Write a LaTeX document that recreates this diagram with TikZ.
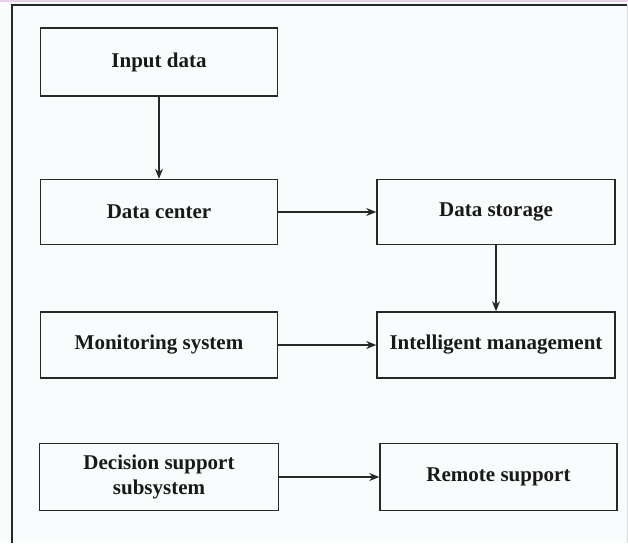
\documentclass[tikz,border=0pt]{standalone}
\usepackage{fontspec}
\setmainfont{Liberation Serif}
\usetikzlibrary{arrows.meta,positioning}

\begin{document}
\begin{tikzpicture}[x=1pt, y=-1pt,
    blockbox/.style={draw=boxline, line width=1.5pt, fill=paper, inner sep=2pt,
        minimum width=237pt, minimum height=66pt, align=center,
        font=\fontsize{21}{25}\selectfont\bfseries, text=black!90},
    flow/.style={draw=boxline, line width=1.6pt, -{Stealth[length=10pt,width=8pt]}}]
        \definecolor{paper}{RGB}{249,252,253}
\definecolor{boxline}{RGB}{40,40,40}
\definecolor{framepink}{RGB}{234,205,232}
\useasboundingbox (0,0) rectangle (628,543);
\fill[paper] (0,0) rectangle (628,543);
\fill[framepink] (0,0) rectangle (628,2);
\draw[boxline, line width=2pt] (12,543) -- (12,5) -- (627,5);
\draw[black!15, line width=0.8pt] (627,5) -- (627,543);
\node[blockbox, minimum height=68pt] (input) at (159,62) {Input data};
\node[blockbox, minimum height=65pt] (center) at (159,212) {Data center};
\node[blockbox, minimum width=238pt, minimum height=65pt] (storage) at (496,212) {Data storage};
\node[blockbox] (monitor) at (159,345) {Monitoring system};
\node[blockbox, minimum width=238pt] (manage) at (496,345) {Intelligent management};
\node[blockbox, minimum width=239pt, minimum height=67pt] (decision) at (159,477) {Decision support\\subsystem};
\node[blockbox, minimum height=67pt] (remote) at (498.5,477) {Remote support};
\draw[flow] (input) -- (center);
\draw[flow] (center) -- (storage);
\draw[flow] (storage) -- (manage);
\draw[flow] (monitor) -- (manage);
\draw[flow] (decision) -- (remote);
        \end{tikzpicture}
\end{document}
